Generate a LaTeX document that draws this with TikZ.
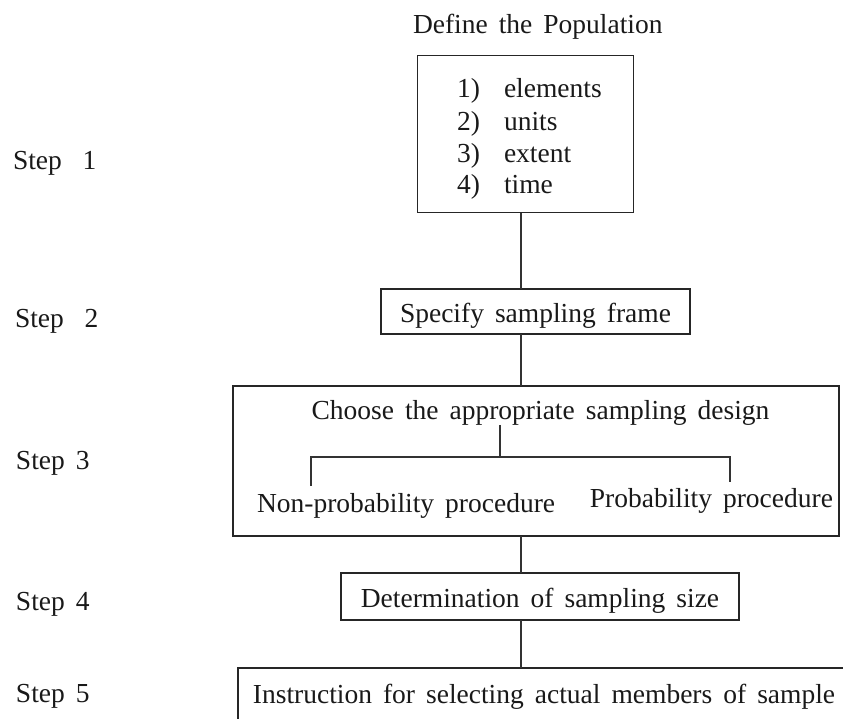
\documentclass[tikz,border=0pt]{standalone}
\usepackage{fontspec}
\setmainfont{Liberation Serif}
\newcommand\diagfont{\fontsize{27.5}{33}\selectfont\spaceskip=0.4em plus 0.1em minus 0.1em\relax}
\begin{document}
\begin{tikzpicture}[x=1pt,y=-1pt,
  every node/.style={font=\diagfont, inner sep=0pt, outer sep=0pt, text=black!90},
  framebox/.style={draw=black!85, line width=1.6pt},
  box/.style={framebox, text height=21pt, text depth=0pt},
  link/.style={draw=black!80, line width=1.2pt},
  steplabel/.style={anchor=base west}]
\path[use as bounding box] (0,0) rectangle (843,718);
\begin{scope}
\clip (0,0) rectangle (843,718);

% Step labels
\node[steplabel] (s1) at (13,169) {Step\hspace{0.75em}1};
\node[steplabel] (s2) at (15,327) {Step\hspace{0.75em}2};
\node[steplabel] (s3) at (16,469) {Step 3};
\node[steplabel] (s4) at (16,610) {Step 4};
\node[steplabel] (s5) at (16,702) {Step 5};

% Step 1
\node[anchor=base west] (title) at (413,33) {Define the Population};
\node[framebox, minimum width=216pt, minimum height=157pt] (pop) at (525.5,134) {};
\node[anchor=base west] (n1) at (457,97) {1)};
\node[anchor=base west] (w1) at (504,97) {elements};
\node[anchor=base west] (n2) at (457,130) {2)};
\node[anchor=base west] (w2) at (504,130) {units};
\node[anchor=base west] (n3) at (457,162) {3)};
\node[anchor=base west] (w3) at (504,162) {extent};
\node[anchor=base west] (n4) at (457,193) {4)};
\node[anchor=base west] (w4) at (504,193) {time};

% Step 2
\node[box, minimum width=309pt, minimum height=45pt] (frame) at (535.5,311.5) {Specify sampling frame};

% Step 3
\node[framebox, minimum width=606pt, minimum height=150pt] (design) at (536,461) {};
\node[anchor=base] (choose) at (540.5,419) {Choose the appropriate sampling design};
\node[anchor=base west] (nonprob) at (257,512) {Non-probability procedure};
\node[anchor=base east] (prob) at (833,507) {Probability procedure};
\coordinate (fork) at (500,457);
\coordinate (bl) at (311,486);
\coordinate (br) at (730,482);
\draw[link] (fork |- choose.south) -- (fork);
\draw[link] (bl) |- (fork) -| (br);

% Step 4
\node[box, minimum width=398pt, minimum height=47pt] (size) at (540,596.5) {Determination of sampling size};

% Step 5 (runs off the lower and right edges)
\node[box, text depth=5pt, minimum width=612pt, minimum height=54pt] (instr) at (544,695) {Instruction for selecting actual members of sample};

% Spine connectors
\coordinate (spine) at (521,0);
\draw[link] (spine |- pop.south) -- (spine |- frame.north);
\draw[link] (spine |- frame.south) -- (spine |- design.north);
\draw[link] (spine |- design.south) -- (spine |- size.north);
\draw[link] (spine |- size.south) -- (spine |- instr.north);
\end{scope}
\end{tikzpicture}
\end{document}
